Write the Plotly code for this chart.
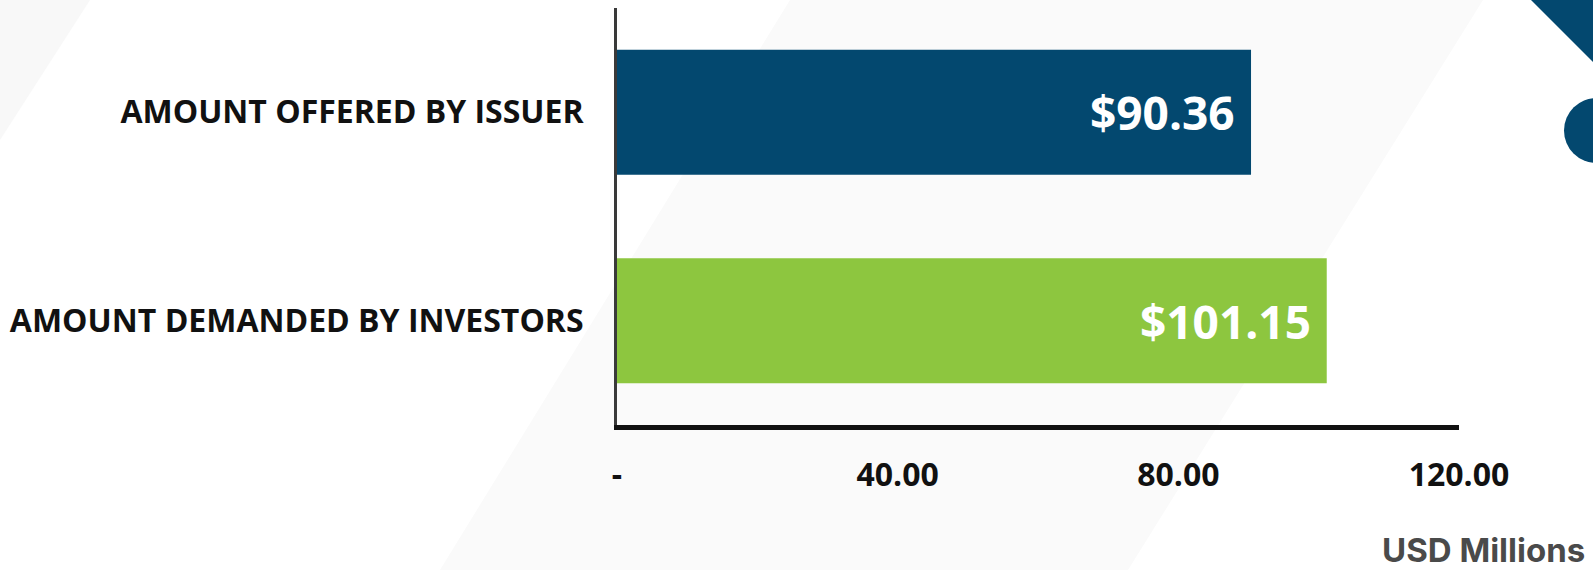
import plotly.graph_objects as go

# Bond issue: amount offered vs. amount demanded (USD millions)
categories = ["AMOUNT DEMANDED BY INVESTORS", "AMOUNT OFFERED BY ISSUER"]
values = [101.15, 90.36]
bar_colors = ["#8DC63F", "#03486F"]
value_labels = ["$101.15", "$90.36"]

x_tick_vals = [0, 40, 80, 120]
x_tick_text = ["-", "40.00", "80.00", "120.00"]
unit_label = "USD Millions"

W, H = 1593, 570
NAVY = "#03486F"


def px(x):
    return x / W


def py(y):
    return 1 - y / H


fig = go.Figure()
fig.add_trace(go.Bar(
    x=values,
    y=categories,
    orientation="h",
    marker=dict(color=bar_colors, line=dict(width=0)),
    width=0.6,
    hoverinfo="skip",
))

# value labels inside the bar ends
for cat, val, lab in zip(categories, values, value_labels):
    fig.add_annotation(
        x=val, y=cat, xref="x", yref="y",
        text=lab, showarrow=False,
        xanchor="right", yanchor="middle", xshift=-14,
        font=dict(family="Open Sans", size=46, color="white", weight="bold"),
    )

fig.add_annotation(
    x=px(1587), y=py(550), xref="paper", yref="paper",
    text=unit_label, showarrow=False, xanchor="right", yanchor="middle",
    font=dict(family="Inter", size=33, color="#4a4a4a", weight="bold"),
)

# faint background panels and corner decoration
shapes = [
    dict(type="path", xref="paper", yref="paper", layer="below",
         path=f"M {px(0)} {py(0)} L {px(90)} {py(0)} L {px(0)} {py(140)} Z",
         fillcolor="#f8f8f8", line=dict(width=0)),
    dict(type="path", xref="paper", yref="paper", layer="below",
         path=(f"M {px(790)} {py(0)} L {px(1483)} {py(0)} "
               f"L {px(1128)} {py(570)} L {px(440)} {py(570)} Z"),
         fillcolor="#fafafa", line=dict(width=0)),
    dict(type="path", xref="paper", yref="paper", layer="above",
         path=f"M {px(1531)} {py(0)} L {px(1600)} {py(0)} L {px(1600)} {py(69)} Z",
         fillcolor=NAVY, line=dict(width=0)),
    dict(type="circle", xref="paper", yref="paper", layer="above",
         x0=px(1564), x1=px(1629), y0=py(98), y1=py(163),
         fillcolor=NAVY, line=dict(width=0)),
]

fig.update_layout(
    width=W, height=H,
    margin=dict(l=0, r=0, t=0, b=0),
    paper_bgcolor="white",
    plot_bgcolor="rgba(0,0,0,0)",
    showlegend=False,
    shapes=shapes,
    xaxis=dict(
        domain=[px(617), px(1459)],
        range=[0, 120],
        tickvals=x_tick_vals, ticktext=x_tick_text,
        showgrid=False, zeroline=False,
        showline=True, linecolor="#111111", linewidth=5,
        ticks="", ticklabelstandoff=18,
        tickfont=dict(family="Open Sans", size=32, color="#111111", weight="bold"),
        automargin=False, fixedrange=True,
    ),
    yaxis=dict(
        domain=[1 - 425 / H, 1 - 8 / H],
        range=[-0.5, 1.5],
        categoryorder="array", categoryarray=categories,
        showgrid=False, zeroline=False,
        showline=True, linecolor="#3a3a3a", linewidth=3,
        ticks="", ticklabelstandoff=24,
        tickfont=dict(family="Open Sans", size=32, color="#111111", weight="bold"),
        automargin=False, fixedrange=True,
    ),
)

fig.write_html("out.html", config={"displayModeBar": False})
